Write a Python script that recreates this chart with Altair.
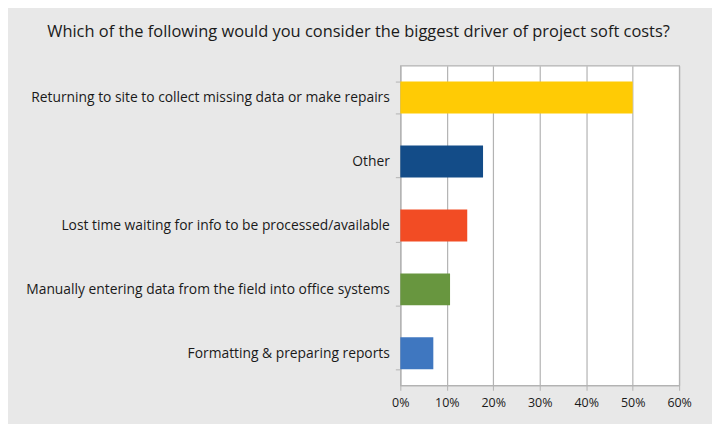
import altair as alt
import pandas as pd

categories = [
    "Returning to site to collect missing data or make repairs",
    "Other",
    "Lost time waiting for info to be processed/available",
    "Manually entering data from the field into office systems",
    "Formatting & preparing reports",
]
values = [0.50, 0.178, 0.144, 0.107, 0.071]
colors = ["#FFCB05", "#134C88", "#F24C24", "#68963F", "#3F77C0"]
x_ticks = [0, 0.1, 0.2, 0.3, 0.4, 0.5, 0.6]

df = pd.DataFrame({"category": categories, "value": values, "color": colors})

FONT = "Open Sans"

chart = (
    alt.Chart(df)
    .mark_bar()
    .encode(
        y=alt.Y(
            "category:N",
            sort=categories,
            title=None,
            scale=alt.Scale(paddingInner=0.5, paddingOuter=0.25),
            axis=alt.Axis(
                labelFontSize=13.9,
                labelColor="#1a1a1a",
                labelFont=FONT,
                labelPadding=6,
                labelLimit=500,
                domainColor="#b3b3b3",
                tickColor="#b3b3b3",
                tickSize=5,
                tickBand="extent",
                grid=False,
            ),
        ),
        x=alt.X(
            "value:Q",
            title=None,
            scale=alt.Scale(domain=[0, 0.6], nice=False),
            axis=alt.Axis(
                values=x_ticks,
                format=".0%",
                labelFontSize=12.5,
                labelColor="#1a1a1a",
                labelFont=FONT,
                labelPadding=6,
                labelFlush=False,
                domainColor="#b3b3b3",
                tickColor="#b3b3b3",
                tickSize=5,
                grid=True,
                gridColor="#b3b3b3",
                gridWidth=1.2,
            ),
        ),
        color=alt.Color("color:N", scale=None, legend=None),
    )
    .properties(
        width=280,
        height=321,
        background="#e8e8e8",
        padding={"left": 17, "top": 15, "right": 20, "bottom": 14},
        title=alt.TitleParams(
            "Which of the following would you consider the biggest driver of project soft costs?",
            fontSize=16.5,
            font=FONT,
            fontWeight="normal",
            color="#1a1a1a",
            anchor="middle",
            frame="bounds",
            offset=18,
        ),
    )
    .configure_view(stroke="#b3b3b3", strokeWidth=1.2, fill="white")
)

chart.save("out.html", embed_options={"renderer": "svg", "actions": False})
